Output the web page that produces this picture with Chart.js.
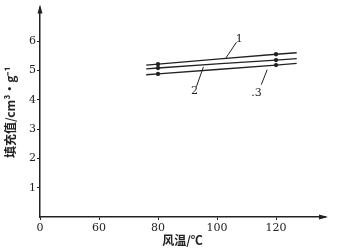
<!DOCTYPE html>
<html>
<head>
<meta charset="utf-8">
<script src="https://cdn.jsdelivr.net/npm/chart.js@4.4.0/dist/chart.umd.min.js"></script>
<style>
  html, body { margin: 0; padding: 0; background: #fff; }
  #wrap { width: 345px; height: 250px; }
</style>
</head>
<body>
<div id="wrap"><canvas id="c"></canvas></div>
<script>
// 风温 tick labels (axis is broken between 0 and 60, ticks are evenly spaced)
const tickTemps = [0, 60, 80, 100, 120];
const yTicks = [1, 2, 3, 4, 5, 6];

// sampled wind temperatures along the curves
const windTemp = [76, 80, 100, 120, 127];
const curve1 = [5.18, 5.21, 5.38, 5.55, 5.60];
const curve2 = [5.05, 5.08, 5.22, 5.35, 5.40];
const curve3 = [4.85, 4.88, 5.03, 5.18, 5.24];
const markR = [0, 1.5, 0, 1.5, 0];

const curveLabels = [
  { text: "1", at: [107.5, 6.06], from: [106.6, 5.96], to: [102.8, 5.39] },
  { text: "2", at: [92.4, 4.28], from: [93, 4.44], to: [95.4, 5.12] },
  { text: ".3", at: [113.4, 4.21], from: [115, 4.51], to: [117, 5.02] }
];

// map a temperature to its position on the broken axis
function pos(t) {
  for (let i = 1; i < tickTemps.length; i++) {
    if (t <= tickTemps[i]) {
      return i - 1 + (t - tickTemps[i - 1]) / (tickTemps[i] - tickTemps[i - 1]);
    }
  }
  const n = tickTemps.length - 1;
  return n + (t - tickTemps[n]) / (tickTemps[n] - tickTemps[n - 1]);
}

const ink = "#222";
const numFont = { family: "'DejaVu Serif', 'Liberation Serif', serif", size: 11 };
const cjkFont = { family: "'Noto Sans CJK SC', sans-serif", size: 12, weight: "bold" };

function makeSet(vals) {
  return {
    data: windTemp.map((t, i) => ({ x: pos(t), y: vals[i] })),
    showLine: true,
    borderColor: ink,
    backgroundColor: ink,
    borderWidth: 1.3,
    pointRadius: markR,
    pointStyle: "circle",
    tension: 0
  };
}

const extras = {
  id: "extras",
  afterDraw(chart) {
    const ctx = chart.ctx;
    const xs = chart.scales.x, ys = chart.scales.y;
    const a = chart.chartArea;
    ctx.save();
    ctx.fillStyle = ink;
    ctx.strokeStyle = ink;
    // arrow heads
    ctx.beginPath();
    ctx.moveTo(a.left, a.top - 3);
    ctx.lineTo(a.left - 2.5, a.top + 6);
    ctx.lineTo(a.left + 2.5, a.top + 6);
    ctx.closePath();
    ctx.fill();
    ctx.beginPath();
    ctx.moveTo(a.right + 3, a.bottom);
    ctx.lineTo(a.right - 6, a.bottom - 2.5);
    ctx.lineTo(a.right - 6, a.bottom + 2.5);
    ctx.closePath();
    ctx.fill();
    // curve labels with leader lines
    ctx.lineWidth = 1;
    ctx.font = "11px 'DejaVu Serif', serif";
    ctx.textAlign = "center";
    ctx.textBaseline = "middle";
    curveLabels.forEach(l => {
      ctx.beginPath();
      ctx.moveTo(xs.getPixelForValue(pos(l.from[0])), ys.getPixelForValue(l.from[1]));
      ctx.lineTo(xs.getPixelForValue(pos(l.to[0])), ys.getPixelForValue(l.to[1]));
      ctx.stroke();
      ctx.fillText(l.text, xs.getPixelForValue(pos(l.at[0])), ys.getPixelForValue(l.at[1]));
    });
    ctx.restore();
  }
};

new Chart(document.getElementById("c"), {
  type: "scatter",
  data: { datasets: [makeSet(curve1), makeSet(curve2), makeSet(curve3)] },
  options: {
    responsive: true,
    maintainAspectRatio: false,
    animation: false,
    layout: { padding: { left: 0, top: 5, right: 20, bottom: 0 } },
    plugins: { legend: { display: false }, tooltip: { enabled: false } },
    scales: {
      x: {
        type: "linear",
        min: 0,
        max: 4.83,
        afterFit: s => { s.height = 33; },
        afterBuildTicks: s => { s.ticks = tickTemps.map((t, i) => ({ value: i })); },
        ticks: {
          color: ink,
          font: numFont,
          padding: 2,
          maxRotation: 0,
          callback: v => tickTemps[v]
        },
        grid: { display: true, drawOnChartArea: false, tickLength: 3, color: ink },
        border: { color: ink, width: 1.5 },
        title: { display: true, text: "风温/℃", color: ink, font: cjkFont, padding: { top: 0, bottom: 2 } }
      },
      y: {
        min: 0,
        max: 7.14,
        afterFit: s => { s.width = 40; },
        afterBuildTicks: s => { s.ticks = yTicks.map(v => ({ value: v })); },
        ticks: { color: ink, font: numFont, padding: 1 },
        grid: { display: true, drawOnChartArea: false, tickLength: 3, color: ink },
        border: { color: ink, width: 1.5 },
        title: {
          display: true,
          text: "填充值/cm³·g⁻¹",
          color: ink,
          font: cjkFont,
          padding: { top: 3, bottom: 4 }
        }
      }
    }
  },
  plugins: [extras]
});
</script>
</body>
</html>
